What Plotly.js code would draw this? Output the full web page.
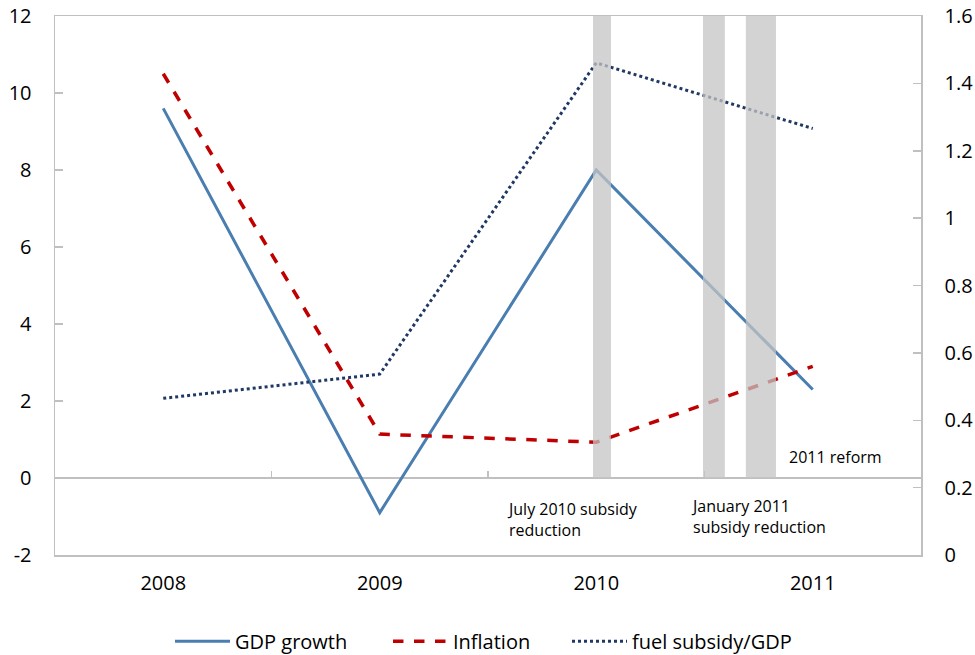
<!DOCTYPE html>
<html>
<head>
<meta charset="utf-8">
<script src="https://cdn.plot.ly/plotly-3.0.1.min.js"></script>
<style>html,body{margin:0;padding:0;background:#fff;}#chart{width:975px;height:655px;}</style>
</head>
<body>
<div id="chart"></div>
<script>
var years = [2008, 2009, 2010, 2011];
var gdpGrowth = [9.6, -0.9, 8.0, 2.3];
var inflation = [10.5, 1.14, 0.93, 2.9];
var fuelSubsidy = [0.465, 0.537, 1.461, 1.266];
var categoryBoundaries = [2007.5, 2008.5, 2009.5, 2010.5, 2011.5];
// subsidy reform periods (shaded bands), in x-axis units
var bandStart = [2009.985, 2010.493, 2010.691];
var bandEnd = [2010.068, 2010.594, 2010.830];
var bandTop = 12;
var leftTicks = [-2, 0, 2, 4, 6, 8, 10, 12];
var leftTickText = ['-2', '0', '2', '4', '6', '8', '10', '12'];
var rightTicks = [0, 0.2, 0.4, 0.6, 0.8, 1, 1.2, 1.4, 1.6];
var rightTickText = ['0', '0.2', '0.4', '0.6', '0.8', '1', '1.2', '1.4', '1.6'];
var notes = [
  {text: '2011 reform', x: 2010.88, y: 0.55},
  {text: 'July 2010 subsidy<br>reduction', x: 2009.58, y: -1.09},
  {text: 'January 2011<br>subsidy reduction', x: 2010.43, y: -0.99}
];

var FONT = 'Open Sans, Noto Sans, sans-serif';
var AXC = '#c0c0c0';

var traces = [
  {x: years, y: gdpGrowth, name: 'GDP growth', type: 'scatter', mode: 'lines', legend: 'legend',
   line: {color: '#4a7eb0', width: 3}, xaxis: 'x', yaxis: 'y'},
  {x: years, y: inflation, name: 'Inflation', type: 'scatter', mode: 'lines', legend: 'legend2',
   line: {color: '#c00000', width: 3.5, dash: 'dash'}, xaxis: 'x', yaxis: 'y'},
  {x: years, y: fuelSubsidy, name: 'fuel subsidy/GDP', type: 'scatter', mode: 'lines', legend: 'legend3',
   line: {color: '#1f3864', width: 3, dash: 'dot'}, xaxis: 'x2', yaxis: 'y2'}
];

var shapes = bandStart.map(function (s, i) {
  return {type: 'rect', xref: 'x', yref: 'y', x0: s, x1: bandEnd[i], y0: 0, y1: bandTop,
          fillcolor: 'rgba(196,196,196,0.75)', line: {width: 0}, layer: 'above'};
});

var annotations = notes.map(function (n) {
  return {text: n.text, x: n.x, y: n.y, xref: 'x', yref: 'y', xanchor: 'left', yanchor: 'middle',
          align: 'left', showarrow: false, font: {family: FONT, size: 16, color: '#000'}};
});

function legendAt(x) {
  return {orientation: 'h', x: x, xanchor: 'left', y: -0.16, yanchor: 'middle',
          font: {family: FONT, size: 20}, itemwidth: 55, bgcolor: 'rgba(0,0,0,0)'};
}

var layout = {
  width: 975, height: 655,
  margin: {l: 55, r: 54, t: 16, b: 100, autoexpand: false},
  paper_bgcolor: '#fff', plot_bgcolor: '#fff',
  font: {family: FONT, size: 20, color: '#000'},
  showlegend: true,
  legend: legendAt(0.1328),
  legend2: legendAt(0.3845),
  legend3: legendAt(0.5912),
  xaxis: {range: [2007.5, 2011.5], tickvals: years, ticktext: years.map(String), ticks: '',
          showline: true, mirror: true, linecolor: AXC, linewidth: 1.5, showgrid: false,
          zeroline: false, ticklabelstandoff: 9, tickfont: {size: 20}},
  xaxis2: {overlaying: 'x', range: [2007.5, 2011.5], anchor: 'free', position: 2 / 14,
           tickvals: categoryBoundaries, ticks: 'inside', ticklen: 7, tickcolor: AXC, tickwidth: 1.5,
           showticklabels: false, showline: false, showgrid: false, zeroline: false},
  yaxis: {range: [-2, 12], tickvals: leftTicks, ticktext: leftTickText, ticks: 'inside', ticklen: 8,
          tickcolor: AXC, tickwidth: 1.5,
          showline: true, mirror: true, linecolor: AXC, linewidth: 1.5, showgrid: false,
          zeroline: true, zerolinecolor: AXC, zerolinewidth: 1.5, ticklabelstandoff: 18,
          tickfont: {size: 20}},
  yaxis2: {overlaying: 'y', side: 'right', anchor: 'x2', range: [0, 1.6], tickvals: rightTicks,
           ticktext: rightTickText, ticks: 'inside', ticklen: 8, tickcolor: AXC, tickwidth: 1.5,
           showline: true, linecolor: AXC, linewidth: 1.5, showgrid: false, zeroline: false,
           ticklabelstandoff: 18, tickfont: {size: 20}},
  shapes: shapes,
  annotations: annotations
};

Plotly.newPlot('chart', traces, layout, {displayModeBar: false, staticPlot: true});
</script>
</body>
</html>
